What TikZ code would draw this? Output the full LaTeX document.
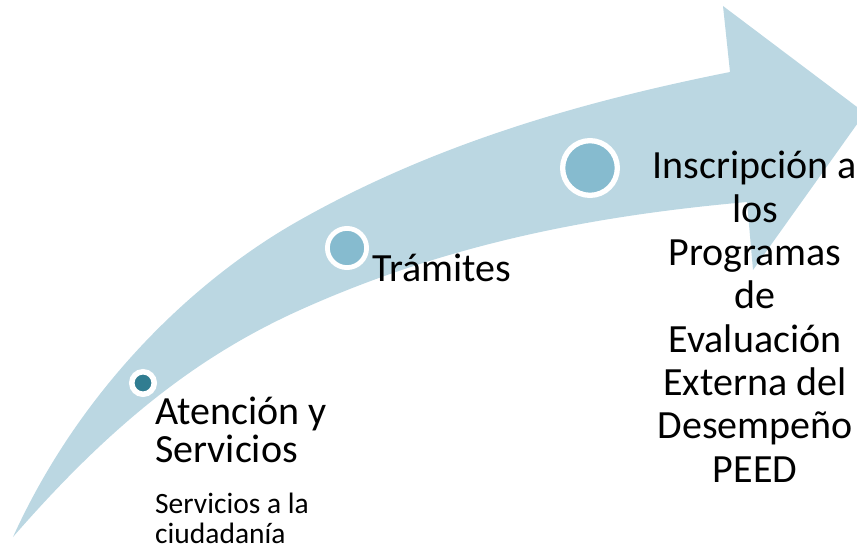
\documentclass[tikz,border=0pt]{standalone}
\usepackage{fontspec}
\setmainfont{Carlito}
\definecolor{arrowfill}{RGB}{187,215,226}
\definecolor{dotmid}{RGB}{134,187,207}
\definecolor{dotdark}{RGB}{49,125,145}
\tikzset{
  dot/.style={circle, draw=white, inner sep=0pt},
  bigtext/.style={inner sep=0pt, font=\fontsize{40}{38}\selectfont},
  righttext/.style={inner sep=0pt, align=center, font=\fontsize{40}{43.3}\selectfont},
  smalltext/.style={inner sep=0pt, align=left, font=\fontsize{29.5}{30}\selectfont}
}
\begin{document}
\begin{tikzpicture}[x=1pt,y=-1pt]
\useasboundingbox (0,0) rectangle (857,548);
\clip (0,0) rectangle (857,548);
\fill[arrowfill]
  (13,537) .. controls (83,383) and (200,276) .. (300,220)
           .. controls (440,141) and (590,100) .. (730,72)
  -- (723,6) -- (865,113) -- (753,270) -- (747,202)
  .. controls (597,215.5) and (450,242.5) .. (300,310)
  .. controls (200,355) and (113,422) .. (13,537)
  -- cycle;
\node[dot, fill=dotdark, line width=5.5pt, minimum size=22.5pt] (c1) at (143,383) {};
\node[dot, fill=dotmid, line width=4.8pt, minimum size=39.2pt] (c2) at (347,248) {};
\node[dot, fill=dotmid, line width=5.3pt, minimum size=54.7pt] (c3) at (590,168) {};
\node[bigtext, align=left, anchor=base west] (t1) at (155,462) {Atención y\\Servicios};
\node[smalltext, anchor=base west] (t1s) at (155,543) {Servicios a la\\ciudadanía};
\node[bigtext, anchor=base west] (t2) at (372,282) {Trámites};
\node[righttext, anchor=base] (t3) at (755,482) {Inscripción a\\los\\Programas\\de\\Evaluación\\Externa del\\Desempeño\\PEED};
\end{tikzpicture}
\end{document}
